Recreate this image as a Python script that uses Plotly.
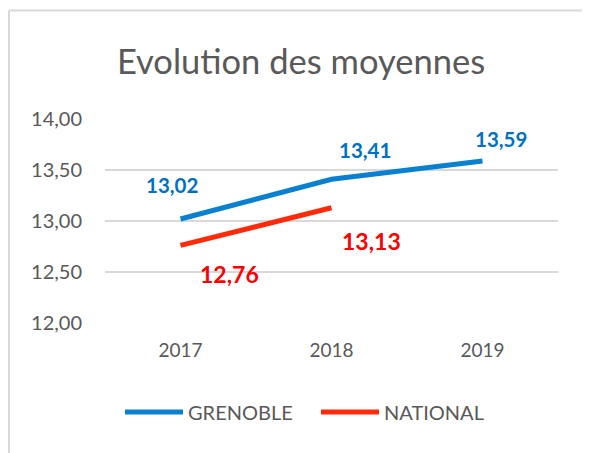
import plotly.graph_objects as go

years = ["2017", "2018", "2019"]
grenoble = [13.02, 13.41, 13.59]
national = [12.76, 13.13, None]
y_ticks = [12.0, 12.5, 13.0, 13.5, 14.0]
y_tick_labels = ["12,00", "12,50", "13,00", "13,50", "14,00"]

BLUE_LINE = "#0A80D0"
BLUE_TXT = "#0070C0"
RED_LINE = "#FF2A0A"
RED_TXT = "#FF0000"
GREY = "#595959"
FONT = "Lato"

# page has an 8px body margin; figure coordinates = reference - 8
W, H = 582, 445
L, T = 97, 111
R = W - 550
B = H - 315
pw, ph = W - L - R, H - T - B

def px2paper_x(px):
    return (px - L) / pw

def px2paper_y(py):
    return (H - B - py) / ph

fig = go.Figure()
fig.add_trace(go.Scatter(x=years, y=grenoble, mode="lines", name="GRENOBLE",
                         line=dict(color=BLUE_LINE, width=5)))
fig.add_trace(go.Scatter(x=years, y=national, mode="lines", name="NATIONAL",
                         line=dict(color=RED_LINE, width=5)))

def fmt(v):
    return f"{v:.2f}".replace(".", ",")

blue_offsets = [(-8.5, 34), (33.5, 29), (18.5, 22.5)]
red_offsets = [(48.5, -29), (40, -33.5), (0, 0)]
for i, (v, (dx, dy)) in enumerate(zip(grenoble, blue_offsets)):
    if v is not None:
        fig.add_annotation(x=i, y=v, text=fmt(v), showarrow=False, xshift=dx, yshift=dy,
                           font=dict(family=FONT, size=20.5, color=BLUE_TXT, weight="bold"))
for i, (v, (dx, dy)) in enumerate(zip(national, red_offsets)):
    if v is not None:
        fig.add_annotation(x=i, y=v, text=fmt(v), showarrow=False, xshift=dx, yshift=dy,
                           font=dict(family=FONT, size=23, color=RED_TXT, weight="bold"))

# chart border (left and top visible)
border = dict(color="#D9D9D9", width=2)
fig.add_shape(type="line", xref="paper", yref="paper",
              x0=px2paper_x(1), x1=px2paper_x(1), y0=px2paper_y(2.5), y1=px2paper_y(460), line=border)
fig.add_shape(type="line", xref="paper", yref="paper",
              x0=px2paper_x(1), x1=px2paper_x(600), y0=px2paper_y(2.5), y1=px2paper_y(2.5), line=border)

fig.update_layout(
    width=W, height=H,
    margin=dict(l=L, r=R, t=T, b=B),
    paper_bgcolor="white", plot_bgcolor="white",
    font=dict(family=FONT, color=GREY, size=16),
    title=dict(text="Evolution des moyennes", x=293 / W, xanchor="center",
               y=1 - 54 / H, yanchor="middle", yref="container",
               font=dict(family=FONT, size=34.5, color=GREY)),
    xaxis=dict(type="category", range=[-0.5, 2.5], showgrid=False, showline=False,
               zeroline=False, ticks="", ticklabelstandoff=14,
               tickfont=dict(size=19, color=GREY)),
    yaxis=dict(range=[11.997, 14.003], tickvals=y_ticks, ticktext=y_tick_labels,
               showgrid=True, gridcolor="#D9D9D9", gridwidth=1.5, zeroline=False,
               showline=False, ticks="", ticklabelstandoff=22,
               tickfont=dict(size=20, color=GREY)),
    showlegend=True,
    legend=dict(orientation="h", x=px2paper_x(112), y=px2paper_y(404), xanchor="left",
                yanchor="middle", itemwidth=58, entrywidth=123,
                font=dict(size=20, color=GREY), bgcolor="rgba(0,0,0,0)"),
)
fig.write_html("out.html")
